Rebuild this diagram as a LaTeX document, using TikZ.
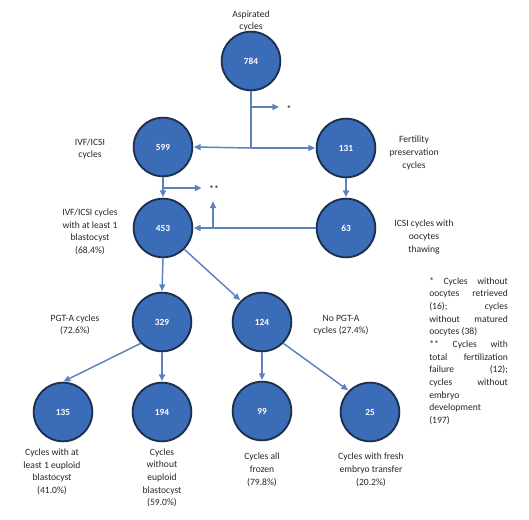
\documentclass[tikz,border=0pt]{standalone}
\usepackage{fontspec}
\setmainfont{Carlito}
\usetikzlibrary{arrows.meta,positioning}
\definecolor{circfill}{RGB}{58,108,184}
\definecolor{circedge}{RGB}{28,48,78}
\definecolor{arrblue}{RGB}{92,130,190}
\newcommand{\sline}[1]{\makebox[59pt][s]{#1}\\}

\begin{document}
\begin{tikzpicture}[x=0.75pt, y=-0.75pt, >={Triangle[length=5pt,width=4.5pt]},
  font=\fontsize{7.2pt}{9.5pt}\selectfont,
  circ/.style={circle, draw=circedge, line width=1.4pt, fill=circfill, minimum size=44pt,
    inner sep=0pt, text=white, font=\fontsize{7pt}{8pt}\selectfont\bfseries},
  lbl/.style={align=center, inner sep=0pt, text=black!85},
  arr/.style={->, draw=arrblue, line width=1.1pt, shorten >=0.5pt},
  seg/.style={draw=arrblue, line width=1.1pt}]
  \useasboundingbox (0,0) rectangle (529,520);
  % circles
  \node[circ] (n784) at (251,61) {784};
  \node[circ] (n599) at (163,147) {599};
  \node[circ] (n131) at (346,148) {131};
  \node[circ] (n453) at (163,228) {453};
  \node[circ] (n63)  at (346,228) {63};
  \node[circ] (n329) at (162,322) {329};
  \node[circ] (n124) at (262,322) {124};
  \node[circ] (n135) at (63,412)  {135};
  \node[circ] (n194) at (162,412) {194};
  \node[circ] (n99)  at (262,411) {99};
  \node[circ] (n25)  at (370,412) {25};
  % labels
  \node[lbl] (l784) at (251,21)  {Aspirated\\cycles};
  \node[lbl] (l599) at (90,149)  {IVF/ICSI\\cycles};
  \node[lbl] (l131) at (414,153) {Fertility\\preservation\\cycles};
  \node[lbl] (l453) at (90,232)  {IVF/ICSI cycles\\with at least 1\\blastocyst\\(68.4\%)};
  \node[lbl] (l63)  at (424,237) {ICSI cycles with\\oocytes\\thawing};
  \node[lbl] (l329) at (75,325)  {PGT-A cycles\\(72.6\%)};
  \node[lbl] (l124) at (341,325) {No PGT-A\\cycles (27.4\%)};
  \node[lbl] (l135) at (52,472)  {Cycles with at\\least 1 euploid\\blastocyst\\(41.0\%)};
  \node[lbl] (l194) at (162,478) {Cycles\\without\\euploid\\blastocyst\\(59.0\%)};
  \node[lbl] (l99)  at (262,470) {Cycles all\\frozen\\(79.8\%)};
  \node[lbl] (l25)  at (371,470) {Cycles with fresh\\embryo transfer\\(20.2\%)};
  \node[lbl, align=left, anchor=north west] (note) at (429,277) {%
    \sline{* Cycles without}\sline{oocytes retrieved}\sline{(16); cycles}%
    \sline{without matured}oocytes (38)\\\sline{** Cycles with}%
    \sline{total fertilization}\sline{failure (12);}\sline{cycles without}%
    embryo\\development\\(197)};
  % side marks
  \node[inner sep=0pt] (star1) at (289,109) {*};
  \node[inner sep=0pt] (star2) at (214,189) {**};
  \coordinate (s1) at (251,148);
  \coordinate (b1) at (251,107);
  \coordinate (b2) at (163,188);
  \coordinate (b3) at (213,228);
  % connectors
  \draw[seg] (n784.south) -- (s1);
  \draw[arr] (s1) -- (n599.east);
  \draw[arr] (s1) -- (n131.west);
  \draw[arr] (b1) -- ([xshift=-5pt]b1 -| star1.west);
  \draw[arr] (n599.south) -- (n453.north);
  \draw[arr] (b2) -- ([xshift=-5pt]b2 -| star2.west);
  \draw[arr] (n131.south) -- (n63.north);
  \draw[arr] (n63.west) -- (n453.east);
  \draw[arr] (b3) -- ([yshift=-6pt]b3 |- star2.south);
  \draw[arr] (n453.south) -- (n329.north);
  \draw[arr] (n453.-45) -- (n124.135);
  \draw[arr] (n329.225) -- (n135.north);
  \draw[arr] (n329.south) -- (n194.north);
  \draw[arr] (n124.south) -- (n99.north);
  \draw[arr] (n124.-45) -- (n25.135);
\end{tikzpicture}
\end{document}
